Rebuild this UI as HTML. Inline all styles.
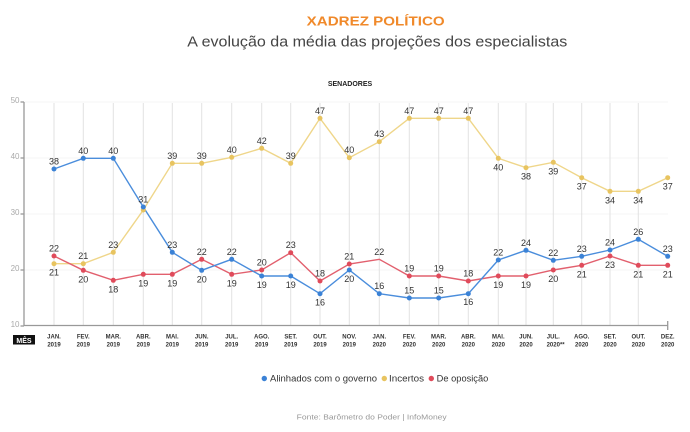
<!DOCTYPE html>
<html><head><meta charset="utf-8"><style>
html,body{margin:0;padding:0;background:#fff;}
svg{display:block;font-family:"Liberation Sans",sans-serif;}
</style></head><body>
<svg width="690" height="432" viewBox="0 0 690 432" xmlns="http://www.w3.org/2000/svg">
<rect width="690" height="432" fill="#fff"/>
<text x="306.7" y="25.7" font-size="13" font-weight="bold" fill="#f0892a" textLength="138" lengthAdjust="spacingAndGlyphs">XADREZ POLÍTICO</text>
<text x="187.3" y="46.7" font-size="15" fill="#444" textLength="380" lengthAdjust="spacingAndGlyphs">A evolução da média das projeções dos especialistas</text>
<text x="350" y="86" font-size="7" font-weight="bold" fill="#222" text-anchor="middle">SENADORES</text>

<g stroke="#f1f1f1" stroke-width="0.8">
<line x1="24" y1="102" x2="668" y2="102"/><line x1="24" y1="158" x2="668" y2="158"/><line x1="24" y1="214" x2="668" y2="214"/><line x1="24" y1="270" x2="668" y2="270"/>
</g>
<g stroke="#e2e2e2" stroke-width="1">
<line x1="54" y1="103" x2="54" y2="326"/><line x1="83.3" y1="103" x2="83.3" y2="326"/><line x1="113.3" y1="103" x2="113.3" y2="326"/><line x1="143.3" y1="103" x2="143.3" y2="326"/><line x1="172.3" y1="103" x2="172.3" y2="326"/><line x1="201.7" y1="103" x2="201.7" y2="326"/><line x1="231.7" y1="103" x2="231.7" y2="326"/><line x1="261.7" y1="103" x2="261.7" y2="326"/><line x1="290.7" y1="103" x2="290.7" y2="326"/><line x1="320" y1="103" x2="320" y2="326"/><line x1="349.3" y1="103" x2="349.3" y2="326"/><line x1="379.3" y1="103" x2="379.3" y2="326"/><line x1="409.3" y1="103" x2="409.3" y2="326"/><line x1="438.7" y1="103" x2="438.7" y2="326"/><line x1="468.3" y1="103" x2="468.3" y2="326"/><line x1="498.3" y1="103" x2="498.3" y2="326"/><line x1="526" y1="103" x2="526" y2="326"/><line x1="553.3" y1="103" x2="553.3" y2="326"/><line x1="581.7" y1="103" x2="581.7" y2="326"/><line x1="610" y1="103" x2="610" y2="326"/><line x1="638.3" y1="103" x2="638.3" y2="326"/>
</g>
<g stroke="#999" stroke-width="1.3">
<line x1="24" y1="102" x2="24" y2="326"/>
<line x1="24" y1="325.5" x2="668" y2="325.5"/>
<line x1="667.7" y1="321" x2="667.7" y2="330"/>
<line x1="20.5" y1="102" x2="24" y2="102"/><line x1="20.5" y1="158" x2="24" y2="158"/><line x1="20.5" y1="214" x2="24" y2="214"/><line x1="20.5" y1="270" x2="24" y2="270"/><line x1="20.5" y1="326" x2="24" y2="326"/>
</g>
<g font-size="8" fill="#aaa" text-anchor="end">
<text x="19.5" y="103">50</text><text x="19.5" y="159">40</text><text x="19.5" y="215">30</text><text x="19.5" y="271">20</text><text x="19.5" y="327">10</text>
</g>

<!-- lines -->
<polyline fill="none" stroke="#efd68a" stroke-width="1.4" points="54,263.7 83.3,263.7 113.3,252.3 143.3,210 172.3,163.3 201.7,163.3 231.7,157.3 261.7,148.3 290.7,163.3 320,118.3 349.3,157.7 379.3,141.7 409.3,118.3 438.7,118.3 468.3,118.3 498.3,158.3 526,167.7 553.3,162.3 581.7,177.7 610,191.3 638.3,191.3 667.7,177.7"/>
<polyline fill="none" stroke="#e2606e" stroke-width="1.4" points="54,256 83.3,270.3 113.3,280.3 143.3,274.3 172.3,274.3 201.7,259.3 231.7,274.3 261.7,270 290.7,252.7 320,281 349.3,264 379.3,259.3 409.3,276 438.7,276 468.3,281 498.3,276 526,276 553.3,270 581.7,265.3 610,256 638.3,265.3 667.7,265.3"/>
<polyline fill="none" stroke="#4a8ddc" stroke-width="1.4" points="54,169 83.3,158.3 113.3,158.3 143.3,207 172.3,252.3 201.7,270.3 231.7,259.3 261.7,276 290.7,276 320,293.7 349.3,270 379.3,293.7 409.3,298 438.7,298 468.3,293.7 498.3,260 526,250.3 553.3,260.3 581.7,256.3 610,250 638.3,239.3 667.7,256.3"/>

<!-- dots -->
<g fill="#e8c460">
<circle cx="54" cy="263.7" r="2.5"/><circle cx="83.3" cy="263.7" r="2.5"/><circle cx="113.3" cy="252.3" r="2.5"/><circle cx="143.3" cy="210" r="2.5"/><circle cx="172.3" cy="163.3" r="2.5"/><circle cx="201.7" cy="163.3" r="2.5"/><circle cx="231.7" cy="157.3" r="2.5"/><circle cx="261.7" cy="148.3" r="2.5"/><circle cx="290.7" cy="163.3" r="2.5"/><circle cx="320" cy="118.3" r="2.5"/><circle cx="349.3" cy="157.7" r="2.5"/><circle cx="379.3" cy="141.7" r="2.5"/><circle cx="409.3" cy="118.3" r="2.5"/><circle cx="438.7" cy="118.3" r="2.5"/><circle cx="468.3" cy="118.3" r="2.5"/><circle cx="498.3" cy="158.3" r="2.5"/><circle cx="526" cy="167.7" r="2.5"/><circle cx="553.3" cy="162.3" r="2.5"/><circle cx="581.7" cy="177.7" r="2.5"/><circle cx="610" cy="191.3" r="2.5"/><circle cx="638.3" cy="191.3" r="2.5"/><circle cx="667.7" cy="177.7" r="2.5"/>
</g>
<g fill="#e04b5b">
<circle cx="54" cy="256" r="2.5"/><circle cx="83.3" cy="270.3" r="2.5"/><circle cx="113.3" cy="280.3" r="2.5"/><circle cx="143.3" cy="274.3" r="2.5"/><circle cx="172.3" cy="274.3" r="2.5"/><circle cx="201.7" cy="259.3" r="2.5"/><circle cx="231.7" cy="274.3" r="2.5"/><circle cx="261.7" cy="270" r="2.5"/><circle cx="290.7" cy="252.7" r="2.5"/><circle cx="320" cy="281" r="2.5"/><circle cx="349.3" cy="264" r="2.5"/><circle cx="409.3" cy="276" r="2.5"/><circle cx="438.7" cy="276" r="2.5"/><circle cx="468.3" cy="281" r="2.5"/><circle cx="498.3" cy="276" r="2.5"/><circle cx="526" cy="276" r="2.5"/><circle cx="553.3" cy="270" r="2.5"/><circle cx="581.7" cy="265.3" r="2.5"/><circle cx="610" cy="256" r="2.5"/><circle cx="638.3" cy="265.3" r="2.5"/><circle cx="667.7" cy="265.3" r="2.5"/>
</g>
<g fill="#3b82d6">
<circle cx="54" cy="169" r="2.5"/><circle cx="83.3" cy="158.3" r="2.5"/><circle cx="113.3" cy="158.3" r="2.5"/><circle cx="143.3" cy="207" r="2.5"/><circle cx="172.3" cy="252.3" r="2.5"/><circle cx="201.7" cy="270.3" r="2.5"/><circle cx="231.7" cy="259.3" r="2.5"/><circle cx="261.7" cy="276" r="2.5"/><circle cx="290.7" cy="276" r="2.5"/><circle cx="320" cy="293.7" r="2.5"/><circle cx="349.3" cy="270" r="2.5"/><circle cx="379.3" cy="293.7" r="2.5"/><circle cx="409.3" cy="298" r="2.5"/><circle cx="438.7" cy="298" r="2.5"/><circle cx="468.3" cy="293.7" r="2.5"/><circle cx="498.3" cy="260" r="2.5"/><circle cx="526" cy="250.3" r="2.5"/><circle cx="553.3" cy="260.3" r="2.5"/><circle cx="581.7" cy="256.3" r="2.5"/><circle cx="610" cy="250" r="2.5"/><circle cx="638.3" cy="239.3" r="2.5"/><circle cx="667.7" cy="256.3" r="2.5"/>
</g>

<!-- data labels -->
<g font-size="9" fill="#333" text-anchor="middle">
<!-- blue -->
<text x="54" y="164.5">38</text><text x="83.3" y="153.8">40</text><text x="113.3" y="153.8">40</text><text x="143.3" y="202.5">31</text><text x="172.3" y="247.8">23</text><text x="201.7" y="282.3">20</text><text x="231.7" y="254.8">22</text><text x="261.7" y="288">19</text><text x="290.7" y="288">19</text><text x="320" y="305.7">16</text><text x="349.3" y="282">20</text><text x="379.3" y="289.2">16</text><text x="409.3" y="293.5">15</text><text x="438.7" y="293.5">15</text><text x="468.3" y="305.2">16</text><text x="498.3" y="255.5">22</text><text x="526" y="245.8">24</text><text x="553.3" y="255.8">22</text><text x="581.7" y="251.8">23</text><text x="610" y="245.5">24</text><text x="638.3" y="234.8">26</text><text x="667.7" y="251.8">23</text>
<!-- yellow -->
<text x="54" y="275.7">21</text><text x="83.3" y="259.2">21</text><text x="113.3" y="247.8">23</text><text x="172.3" y="158.8">39</text><text x="201.7" y="158.8">39</text><text x="231.7" y="152.8">40</text><text x="261.7" y="143.8">42</text><text x="290.7" y="158.8">39</text><text x="320" y="113.8">47</text><text x="349.3" y="153.2">40</text><text x="379.3" y="137.2">43</text><text x="409.3" y="113.8">47</text><text x="438.7" y="113.8">47</text><text x="468.3" y="113.8">47</text><text x="498.3" y="170.3">40</text><text x="526" y="179.7">38</text><text x="553.3" y="174.3">39</text><text x="581.7" y="189.7">37</text><text x="610" y="203.3">34</text><text x="638.3" y="203.3">34</text><text x="667.7" y="189.7">37</text>
<!-- red -->
<text x="54" y="251.5">22</text><text x="83.3" y="282.3">20</text><text x="113.3" y="292.3">18</text><text x="143.3" y="286.3">19</text><text x="172.3" y="286.3">19</text><text x="201.7" y="254.8">22</text><text x="231.7" y="286.3">19</text><text x="261.7" y="265.5">20</text><text x="290.7" y="248.2">23</text><text x="320" y="276.5">18</text><text x="349.3" y="259.5">21</text><text x="379.3" y="254.8">22</text><text x="409.3" y="271.5">19</text><text x="438.7" y="271.5">19</text><text x="468.3" y="276.5">18</text><text x="498.3" y="288">19</text><text x="526" y="288">19</text><text x="553.3" y="282">20</text><text x="581.7" y="277.3">21</text><text x="610" y="268">23</text><text x="638.3" y="277.3">21</text><text x="667.7" y="277.3">21</text>
</g>

<!-- x axis labels -->
<rect x="13" y="335" width="22" height="9.5" fill="#111"/>
<text x="24" y="342.8" font-size="7" font-weight="bold" fill="#fff" text-anchor="middle">MÊS</text>
<g font-size="6" font-weight="bold" fill="#333" text-anchor="middle">
<text x="54" y="338.5">JAN.</text><text x="83.3" y="338.5">FEV.</text><text x="113.3" y="338.5">MAR.</text><text x="143.3" y="338.5">ABR.</text><text x="172.3" y="338.5">MAI.</text><text x="201.7" y="338.5">JUN.</text><text x="231.7" y="338.5">JUL.</text><text x="261.7" y="338.5">AGO.</text><text x="290.7" y="338.5">SET.</text><text x="320" y="338.5">OUT.</text><text x="349.3" y="338.5">NOV.</text><text x="379.3" y="338.5">JAN.</text><text x="409.3" y="338.5">FEV.</text><text x="438.7" y="338.5">MAR.</text><text x="468.3" y="338.5">ABR.</text><text x="498.3" y="338.5">MAI.</text><text x="526" y="338.5">JUN.</text><text x="553.3" y="338.5">JUL.</text><text x="581.7" y="338.5">AGO.</text><text x="610" y="338.5">SET.</text><text x="638.3" y="338.5">OUT.</text><text x="667.7" y="338.5">DEZ.</text>
<text x="54" y="346.5">2019</text><text x="83.3" y="346.5">2019</text><text x="113.3" y="346.5">2019</text><text x="143.3" y="346.5">2019</text><text x="172.3" y="346.5">2019</text><text x="201.7" y="346.5">2019</text><text x="231.7" y="346.5">2019</text><text x="261.7" y="346.5">2019</text><text x="290.7" y="346.5">2019</text><text x="320" y="346.5">2019</text><text x="349.3" y="346.5">2019</text><text x="379.3" y="346.5">2020</text><text x="409.3" y="346.5">2020</text><text x="438.7" y="346.5">2020</text><text x="468.3" y="346.5">2020</text><text x="498.3" y="346.5">2020</text><text x="526" y="346.5">2020</text><text x="546.6" y="346.5" text-anchor="start">2020**</text><text x="581.7" y="346.5">2020</text><text x="610" y="346.5">2020</text><text x="638.3" y="346.5">2020</text><text x="667.7" y="346.5">2020</text>
</g>

<!-- legend -->
<circle cx="264.3" cy="378.5" r="2.7" fill="#3b82d6"/>
<text x="270" y="381.7" font-size="9" fill="#333" textLength="107" lengthAdjust="spacingAndGlyphs">Alinhados com o governo</text>
<circle cx="384.3" cy="378.5" r="2.7" fill="#e8c460"/>
<text x="389" y="381.7" font-size="9" fill="#333" textLength="35" lengthAdjust="spacingAndGlyphs">Incertos</text>
<circle cx="431.3" cy="378.5" r="2.7" fill="#e04b5b"/>
<text x="436.7" y="381.7" font-size="9" fill="#333" textLength="51.6" lengthAdjust="spacingAndGlyphs">De oposição</text>

<text x="296.7" y="419.5" font-size="7" fill="#999" textLength="150" lengthAdjust="spacingAndGlyphs">Fonte: Barômetro do Poder | InfoMoney</text>
</svg>
</body></html>
